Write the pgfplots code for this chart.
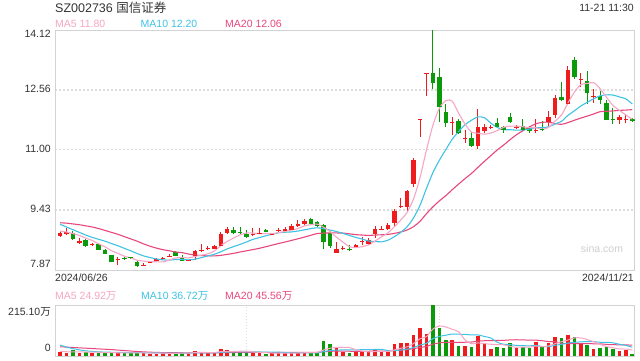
\documentclass[border=0pt]{standalone}
\usepackage{pgfplots}
\pgfplotsset{compat=1.18}
\usepackage{pgfplotstable}
\usepackage{fontspec}
\setmainfont{Liberation Sans}
\newfontfamily\cjk{Noto Sans CJK SC}
\definecolor{cR}{HTML}{EE1C1C}
\definecolor{cG}{HTML}{0A9A0A}
\definecolor{ma5c}{HTML}{F7A6C4}
\definecolor{ma10c}{HTML}{3FC3E4}
\definecolor{ma20c}{HTML}{E8477D}
\definecolor{txt}{HTML}{333333}
\definecolor{frameC}{HTML}{D3D3D3}
\definecolor{gridC}{HTML}{DDDDDD}
\definecolor{sinaC}{HTML}{CFCFCF}

\pgfplotstableread{
i O H L C V
0 8.76 8.87 8.74 8.84 15
1 8.83 8.96 8.78 8.85 14
3 8.60 8.71 8.55 8.61 14
5 8.53 8.57 8.50 8.54 12
9 8.15 8.22 8.00 8.16 14
13 7.98 8.06 7.98 7.99 14
14 8.06 8.10 8.04 8.08 10
15 8.11 8.19 8.11 8.16 10
16 8.17 8.22 8.13 8.18 11
17 8.23 8.28 8.21 8.24 11
20 8.11 8.13 8.10 8.12 11
21 8.26 8.40 8.13 8.37 22
22 8.39 8.55 8.34 8.40 15
23 8.42 8.50 8.40 8.43 12
24 8.44 8.52 8.43 8.50 13
25 8.52 8.86 8.49 8.81 30
26 8.85 8.99 8.82 8.93 24
30 8.80 8.96 8.76 8.81 13
31 8.82 8.96 8.81 8.83 14
33 8.80 8.83 8.79 8.81 11
34 8.89 8.97 8.86 8.91 12
35 8.90 8.98 8.88 8.94 12
36 8.93 9.07 8.91 9.02 14
37 9.02 9.17 8.99 9.07 15
38 9.07 9.21 9.03 9.15 16
43 8.33 8.61 8.32 8.42 32
44 8.43 8.50 8.39 8.44 18
46 8.47 8.55 8.45 8.51 16
47 8.61 8.73 8.52 8.62 22
48 8.55 8.70 8.53 8.65 18
49 8.81 9.02 8.71 8.94 25
50 8.93 9.01 8.90 8.94 17
51 8.94 9.10 8.90 9.04 18
52 9.10 9.45 9.00 9.41 50
53 9.52 9.75 9.48 9.54 54
54 9.52 9.96 9.41 9.93 54
55 10.11 10.79 10.04 10.73 88
56 11.79 11.80 11.33 11.80 118
57 12.99 13.00 12.40 13.00 94
61 11.72 11.85 11.39 11.73 68
63 11.30 11.52 11.18 11.31 43
65 11.10 12.06 11.02 11.59 86
66 11.50 11.66 11.43 11.59 53
67 11.59 11.65 11.53 11.60 30
71 11.59 11.65 11.53 11.60 33
74 11.51 11.80 11.45 11.52 57
76 11.73 12.00 11.61 11.85 53
77 11.91 12.43 11.84 12.34 82
79 12.21 13.18 12.16 13.08 90
81 12.83 13.00 12.63 12.84 53
83 12.40 12.58 12.22 12.41 29
87 11.79 11.90 11.67 11.85 22
88 11.79 11.94 11.69 11.80 27
}\redtab

\pgfplotstableread{
i O H L C V
2 8.83 8.88 8.66 8.70 24
4 8.65 8.68 8.48 8.50 17
6 8.55 8.58 8.39 8.41 14
7 8.39 8.41 8.28 8.31 13
8 8.26 8.27 8.08 8.10 15
10 8.18 8.21 8.14 8.17 11
11 8.20 8.21 8.16 8.19 11
12 8.09 8.10 7.96 8.00 17
18 8.35 8.37 8.23 8.26 15
19 8.22 8.25 8.10 8.13 13
27 8.91 8.99 8.80 8.84 16
28 8.85 8.98 8.80 8.84 18
29 8.81 8.91 8.71 8.75 15
32 8.91 8.93 8.85 8.87 10
39 9.19 9.23 9.03 9.07 16
40 9.11 9.14 8.99 9.02 15
41 9.04 9.06 8.41 8.61 65
42 8.83 8.89 8.44 8.50 52
45 8.42 8.51 8.36 8.41 14
58 13.00 14.12 12.58 12.74 215.1
59 12.90 13.13 11.72 12.14 118
60 11.98 12.19 11.59 11.72 68
62 11.75 11.80 11.41 11.44 43
64 11.31 11.46 11.07 11.10 36
68 11.69 11.84 11.60 11.62 36
69 11.59 11.62 11.45 11.53 32
70 11.85 11.95 11.70 11.73 53
72 11.62 11.80 11.50 11.52 36
73 11.56 11.62 11.44 11.50 32
75 11.54 11.74 11.50 11.53 36
78 12.37 12.76 12.26 12.30 75
80 13.34 13.41 12.84 12.92 82
82 12.80 13.05 12.20 12.49 47
84 12.40 12.52 12.20 12.30 33
85 12.21 12.30 11.77 11.79 36
86 11.80 12.08 11.66 11.79 29
89 11.80 11.84 11.72 11.76 10
}\greentab

\pgfplotstableread{
i m5 m10 m20
0 8.88 9.06 9.10
1 8.86 8.99 9.09
2 8.82 8.92 9.07
3 8.77 8.85 9.05
4 8.700 8.78 9.02
5 8.640 8.72 8.99
6 8.552 8.67 8.95
7 8.474 8.62 8.90
8 8.372 8.56 8.85
9 8.304 8.502 8.80
10 8.230 8.435 8.74
11 8.186 8.369 8.68
12 8.124 8.299 8.62
13 8.102 8.237 8.55
14 8.086 8.195 8.49
15 8.084 8.157 8.44
16 8.082 8.134 8.40
17 8.130 8.127 8.37
18 8.184 8.143 8.34
19 8.194 8.140 8.321
20 8.186 8.135 8.285
21 8.224 8.153 8.261
22 8.256 8.193 8.246
23 8.290 8.237 8.237
24 8.364 8.279 8.237
25 8.502 8.344 8.251
26 8.614 8.419 8.277
27 8.702 8.479 8.303
28 8.784 8.537 8.340
29 8.834 8.599 8.370
30 8.834 8.668 8.402
31 8.814 8.714 8.434
32 8.820 8.761 8.477
33 8.814 8.799 8.518
34 8.846 8.840 8.560
35 8.872 8.853 8.599
36 8.910 8.862 8.641
37 8.950 8.885 8.682
38 9.018 8.916 8.727
39 9.050 8.948 8.774
40 9.066 8.969 8.819
41 8.984 8.947 8.831
42 8.870 8.910 8.836
43 8.724 8.871 8.835
44 8.598 8.824 8.832
45 8.476 8.771 8.812
46 8.456 8.720 8.791
47 8.480 8.675 8.780
48 8.526 8.625 8.771
49 8.626 8.612 8.780
50 8.732 8.604 8.787
51 8.838 8.647 8.797
52 8.996 8.738 8.824
53 9.174 8.850 8.861
54 9.372 8.999 8.912
55 9.730 9.231 9.001
56 10.282 9.560 9.140
57 11.000 9.998 9.337
58 11.640 10.407 9.516
59 12.082 10.727 9.670
60 12.280 11.005 9.805
61 12.266 11.274 9.961
62 11.954 11.477 10.108
63 11.668 11.654 10.252
64 11.460 11.771 10.385
65 11.434 11.857 10.544
66 11.406 11.836 10.698
67 11.438 11.696 10.847
68 11.500 11.584 10.996
69 11.586 11.523 11.125
70 11.614 11.524 11.265
71 11.616 11.511 11.393
72 11.600 11.519 11.498
73 11.576 11.538 11.596
74 11.574 11.580 11.676
75 11.534 11.574 11.716
76 11.584 11.600 11.718
77 11.748 11.674 11.685
78 11.908 11.742 11.663
79 12.220 11.897 11.710
80 12.498 12.016 11.770
81 12.696 12.140 11.826
82 12.726 12.237 11.878
83 12.748 12.328 11.933
84 12.592 12.406 11.993
85 12.366 12.432 12.003
86 12.156 12.426 12.013
87 12.028 12.377 12.026
88 11.906 12.327 12.035
89 11.798 12.195 12.046
}\matab

\pgfplotstableread{
i v5 v10 v20
0 20 46 39
1 18 38 37.5
2 17 31 36
3 17 26 34.5
4 16.8 22 33
5 16.2 19.5 31.5
6 16.2 17.5 30
7 14.0 16.5 28.5
8 14.2 15.8 27
9 13.6 15.2 25
10 13.4 14.8 23
11 12.8 14.5 21
12 13.6 13.8 19
13 13.4 13.8 17.5
14 12.6 13.1 16.2
15 12.4 12.9 15.2
16 12.4 12.6 14.5
17 11.2 12.4 14.0
18 11.4 12.4 13.8
19 12.0 12.3 13.75
20 12.2 12.3 13.55
21 14.4 13.4 13.95
22 15.2 13.2 13.5
23 14.6 13.0 13.4
24 14.6 13.3 13.2
25 18.4 15.3 14.1
26 18.8 16.6 14.6
27 19.0 17.1 14.75
28 20.2 17.4 14.9
29 20.6 17.6 14.95
30 17.2 17.8 15.05
31 15.2 17.0 15.2
32 14.0 16.5 14.85
33 12.6 16.4 14.7
34 12.0 16.3 14.8
35 11.8 14.5 14.9
36 11.8 13.5 15.05
37 12.8 13.4 15.25
38 13.8 13.2 15.3
39 14.6 13.3 15.45
40 15.2 13.5 15.65
41 25.4 18.6 17.8
42 32.8 22.8 19.65
43 36.0 24.9 20.65
44 36.4 25.5 20.9
45 36.2 25.7 20.1
46 26.4 25.9 19.7
47 20.4 26.6 20.0
48 17.6 26.8 20.0
49 19.0 27.7 20.5
50 19.6 27.9 20.7
51 20.0 23.2 20.9
52 25.6 23.0 22.9
53 32.8 25.2 25.05
54 38.6 28.8 27.15
55 52.8 36.2 30.95
56 72.8 46.4 36.15
57 81.6 53.6 40.1
58 113.8 73.3 50.05
59 126.6 82.6 55.15
60 122.6 87.7 57.8
61 112.6 92.7 57.95
62 102.4 92.0 57.5
63 68.0 90.9 58.05
64 51.6 89.1 58.95
65 55.2 88.9 62.55
66 52.2 82.4 64.4
67 49.6 76.0 64.8
68 48.2 58.1 65.7
69 47.4 49.5 66.05
70 40.8 48.0 67.85
71 36.8 44.5 68.6
72 38.0 43.8 67.9
73 37.2 42.7 66.8
74 42.2 44.8 66.95
75 38.8 39.8 64.35
76 42.8 39.8 61.1
77 52.0 45.0 60.5
78 60.6 48.9 53.5
79 67.2 54.7 52.1
80 76.4 57.6 52.8
81 76.4 59.6 52.05
82 69.4 60.7 52.25
83 60.2 60.4 51.55
84 48.8 58.0 51.4
85 39.6 58.0 48.9
86 34.8 55.6 47.7
87 29.8 49.6 47.3
88 29.4 44.8 46.85
89 24.8 36.8 45.75
}\vmatab

\begin{document}
\begin{tikzpicture}
\useasboundingbox (0pt,0pt) rectangle (640pt,360pt);
\fill[white] (0pt,0pt) rectangle (640pt,360pt);

% ---------- price panel ----------
\begin{axis}[at={(55pt,90pt)}, anchor=south west, scale only axis,
  width=579.5pt, height=240pt,
  xmin=-0.78, xmax=89.35, ymin=7.87, ymax=14.12,
  axis line style={draw=frameC, line width=0.9pt},
  xtick=\empty, ytick={9.43,11.00,12.56}, yticklabels={},
  major tick length=0pt,
  ymajorgrids, grid style={draw=gridC, line width=1.3pt, dash pattern=on 2pt off 2pt},
  clip=true]
  % wicks
  \addplot[draw=none, mark=none, forget plot, error bars/.cd, y dir=plus, y explicit, error mark=none,
    error bar style={draw=cR, line width=1pt}]
    table[x=i, y=L, y error plus expr=\thisrow{H}-\thisrow{L}] {\redtab};
  \addplot[draw=none, mark=none, forget plot, error bars/.cd, y dir=plus, y explicit, error mark=none,
    error bar style={draw=cG, line width=1pt}]
    table[x=i, y=L, y error plus expr=\thisrow{H}-\thisrow{L}] {\greentab};
  % bodies
  \addplot[only marks, mark=-, mark size=2.25pt, mark options={draw=cR, line width=1pt},
    error bars/.cd, y dir=plus, y explicit, error mark=none,
    error bar style={draw=cR, line width=4.5pt}]
    table[x=i, y=O, y error plus expr=\thisrow{C}-\thisrow{O}] {\redtab};
  \addplot[only marks, mark=-, mark size=2.25pt, mark options={draw=cG, line width=1pt},
    error bars/.cd, y dir=plus, y explicit, error mark=none,
    error bar style={draw=cG, line width=4.5pt}]
    table[x=i, y=C, y error plus expr=\thisrow{O}-\thisrow{C}] {\greentab};
  % moving averages
  \addplot[ma20c, line width=1.1pt, smooth, no marks] table[x=i, y=m20] {\matab};
  \addplot[ma10c, line width=1.1pt, smooth, no marks] table[x=i, y=m10] {\matab};
  \addplot[ma5c, line width=1.1pt, smooth, no marks] table[x=i, y=m5] {\matab};
\end{axis}

% ---------- volume panel ----------
\begin{axis}[at={(55pt,4pt)}, anchor=south west, scale only axis,
  width=579.5pt, height=51pt,
  xmin=-0.78, xmax=89.35, ymin=0, ymax=215.1,
  axis line style={draw=frameC, line width=0.9pt},
  xtick={29,59}, xticklabels={}, ytick=\empty,
  major tick length=0pt,
  xmajorgrids, grid style={draw=gridC, line width=1pt, dash pattern=on 1.5pt off 1.5pt},
  clip=true]
  \addplot[ycomb, draw=cR, line width=3.6pt, mark=none] table[x=i, y=V] {\redtab};
  \addplot[ycomb, draw=cG, line width=3.6pt, mark=none] table[x=i, y=V] {\greentab};
  \addplot[ma20c, line width=1pt, smooth, no marks] table[x=i, y=v20] {\vmatab};
  \addplot[ma10c, line width=1pt, smooth, no marks] table[x=i, y=v10] {\vmatab};
  \addplot[ma5c, line width=1pt, smooth, no marks] table[x=i, y=v5] {\vmatab};
\end{axis}

% ---------- texts ----------
\begin{scope}[every node/.style={inner sep=0pt, font=\fontsize{10.5}{12}\selectfont, text=txt}]
\node[anchor=base west, font=\fontsize{12.5}{14}\selectfont] at (55pt,348pt) {SZ002736 {\cjk 国信证券}};
\node[anchor=base east] at (634pt,349pt) {11-21 11:30};
\node[anchor=base west, text=ma5c] at (55pt,332.5pt) {MA5 11.80};
\node[anchor=base west, text=ma10c] at (140.5pt,332.5pt) {MA10 12.20};
\node[anchor=base west, text=ma20c] at (225pt,332.5pt) {MA20 12.06};
\node[anchor=east] at (51pt,325.7pt) {14.12};
\node[anchor=east] at (51pt,271pt) {12.56};
\node[anchor=east] at (51pt,211pt) {11.00};
\node[anchor=east] at (51pt,151pt) {9.43};
\node[anchor=east] at (51pt,96.5pt) {7.87};
\node[anchor=base west] at (55pt,78.5pt) {2024/06/26};
\node[anchor=base east] at (634pt,78.5pt) {2024/11/21};
\node[anchor=base west, text=ma5c] at (55pt,61pt) {MA5 24.92{\cjk 万}};
\node[anchor=base west, text=ma10c] at (141pt,61pt) {MA10 36.72{\cjk 万}};
\node[anchor=base west, text=ma20c] at (225pt,61pt) {MA20 45.56{\cjk 万}};
\node[anchor=east] at (51pt,48.5pt) {215.10{\cjk 万}};
\node[anchor=east] at (51pt,11.7pt) {0};
\node[text=sinaC] at (602pt,111pt) {sina.com};
\end{scope}
\end{tikzpicture}
\end{document}
